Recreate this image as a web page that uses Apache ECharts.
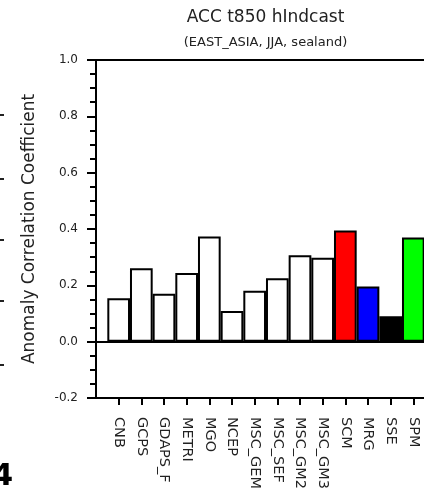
<!DOCTYPE html>
<html>
<head>
<meta charset="utf-8">
<script src="https://cdn.jsdelivr.net/npm/echarts@6/dist/echarts.min.js"></script>
<style>
html,body{margin:0;padding:0;background:#fff;}
#c{width:424px;height:497px;}
</style>
</head>
<body>
<div id="c"></div>
<script>
// Data
const CATEGORIES = ['CNB','GCPS','GDAPS_F','METRI','MGO','NCEP','MSC_GEM','MSC_SEF','MSC_GM2','MSC_GM3','SCM','MRG','SSE','SPM'];
const ACC_VALUES = [0.154, 0.261, 0.170, 0.244, 0.373, 0.109, 0.181, 0.225, 0.307, 0.298, 0.395, 0.196, 0.090, 0.370];
const BAR_COLORS = ['#ffffff','#ffffff','#ffffff','#ffffff','#ffffff','#ffffff','#ffffff','#ffffff','#ffffff','#ffffff','#ff0000','#0000ff','#000000','#00ff00'];
const Y_TICKS = [-0.2, 0.0, 0.2, 0.4, 0.6, 0.8, 1.0];
const TITLE = 'ACC t850 hIndcast';
const SUBTITLE = '(EAST_ASIA, JJA, sealand)';
const Y_NAME = 'Anomaly Correlation Coefficient';

const FONT = 'DejaVu Sans';
const positions = CATEGORIES.map((c, i) => i + 1);

const chart = echarts.init(document.getElementById('c'), null, {renderer: 'canvas'});
const option = {
  backgroundColor: '#ffffff',
  animation: false,
  grid: {
    left: 96, top: 60, width: 340, height: 338,
    outerBoundsMode: 'none', containLabel: false,
    show: true, borderColor: '#000', borderWidth: 2, backgroundColor: 'transparent'
  },
  xAxis: {
    type: 'value',
    min: 0, max: CATEGORIES.length + 1,
    splitLine: {show: false},
    axisLine: {show: true, onZero: false, lineStyle: {color: '#000', width: 2}},
    axisTick: {show: true, inside: false, length: 7, lineStyle: {color: '#000', width: 2}, customValues: positions},
    axisLabel: {
      show: true, rotate: -90, margin: 19, customValues: positions,
      formatter: v => CATEGORIES[Math.round(v) - 1] || '',
      fontFamily: FONT, fontSize: 14.5, color: '#222'
    }
  },
  yAxis: {
    type: 'value',
    min: Y_TICKS[0], max: Y_TICKS[Y_TICKS.length - 1], interval: 0.2,
    splitLine: {show: false},
    axisLine: {show: true, onZero: false, lineStyle: {color: '#000', width: 2}},
    axisTick: {show: true, inside: false, length: 9, lineStyle: {color: '#000', width: 2}},
    minorTick: {show: true, splitNumber: 4, length: 6, lineStyle: {color: '#000', width: 2}},
    axisLabel: {
      margin: 18, fontFamily: FONT, fontSize: 12, color: '#222',
      formatter: v => (Math.abs(v) < 1e-9 ? 0 : v).toFixed(1)
    },
    name: Y_NAME, nameLocation: 'middle', nameGap: 58, nameRotate: 90,
    nameTextStyle: {fontFamily: FONT, fontSize: 17, color: '#222'}
  },
  series: [{
    type: 'bar',
    barWidth: 22.7,
    data: positions.map((p, i) => ({
      value: [p, ACC_VALUES[i]],
      itemStyle: {color: BAR_COLORS[i], borderColor: '#000', borderWidth: 2}
    })),
    markLine: {
      silent: true, symbol: 'none', label: {show: false},
      lineStyle: {color: '#000', width: 2, type: 'solid'},
      data: [{yAxis: 0}]
    }
  }],
  graphic: [
    {type: 'text', x: 265.5, y: 18, style: {text: TITLE, align: 'center', verticalAlign: 'middle', font: '17px "DejaVu Sans"', fill: '#222'}},
    {type: 'text', x: 265.5, y: 43, style: {text: SUBTITLE, align: 'center', verticalAlign: 'middle', font: '13px "DejaVu Sans"', fill: '#222'}},
    {type: 'text', x: 13, y: 492, style: {text: '4', align: 'right', verticalAlign: 'bottom', font: 'bold 30px "DejaVu Sans"', fill: '#000'}},
    {type: 'rect', shape: {x: 0, y: 114, width: 4, height: 2}, style: {fill: '#222'}},
    {type: 'rect', shape: {x: 0, y: 178, width: 4, height: 2}, style: {fill: '#222'}},
    {type: 'rect', shape: {x: 0, y: 239, width: 4, height: 2}, style: {fill: '#222'}},
    {type: 'rect', shape: {x: 0, y: 300, width: 4, height: 2}, style: {fill: '#222'}},
    {type: 'rect', shape: {x: 0, y: 364, width: 4, height: 2}, style: {fill: '#222'}}
  ]
};
chart.setOption(option);
</script>
</body>
</html>
